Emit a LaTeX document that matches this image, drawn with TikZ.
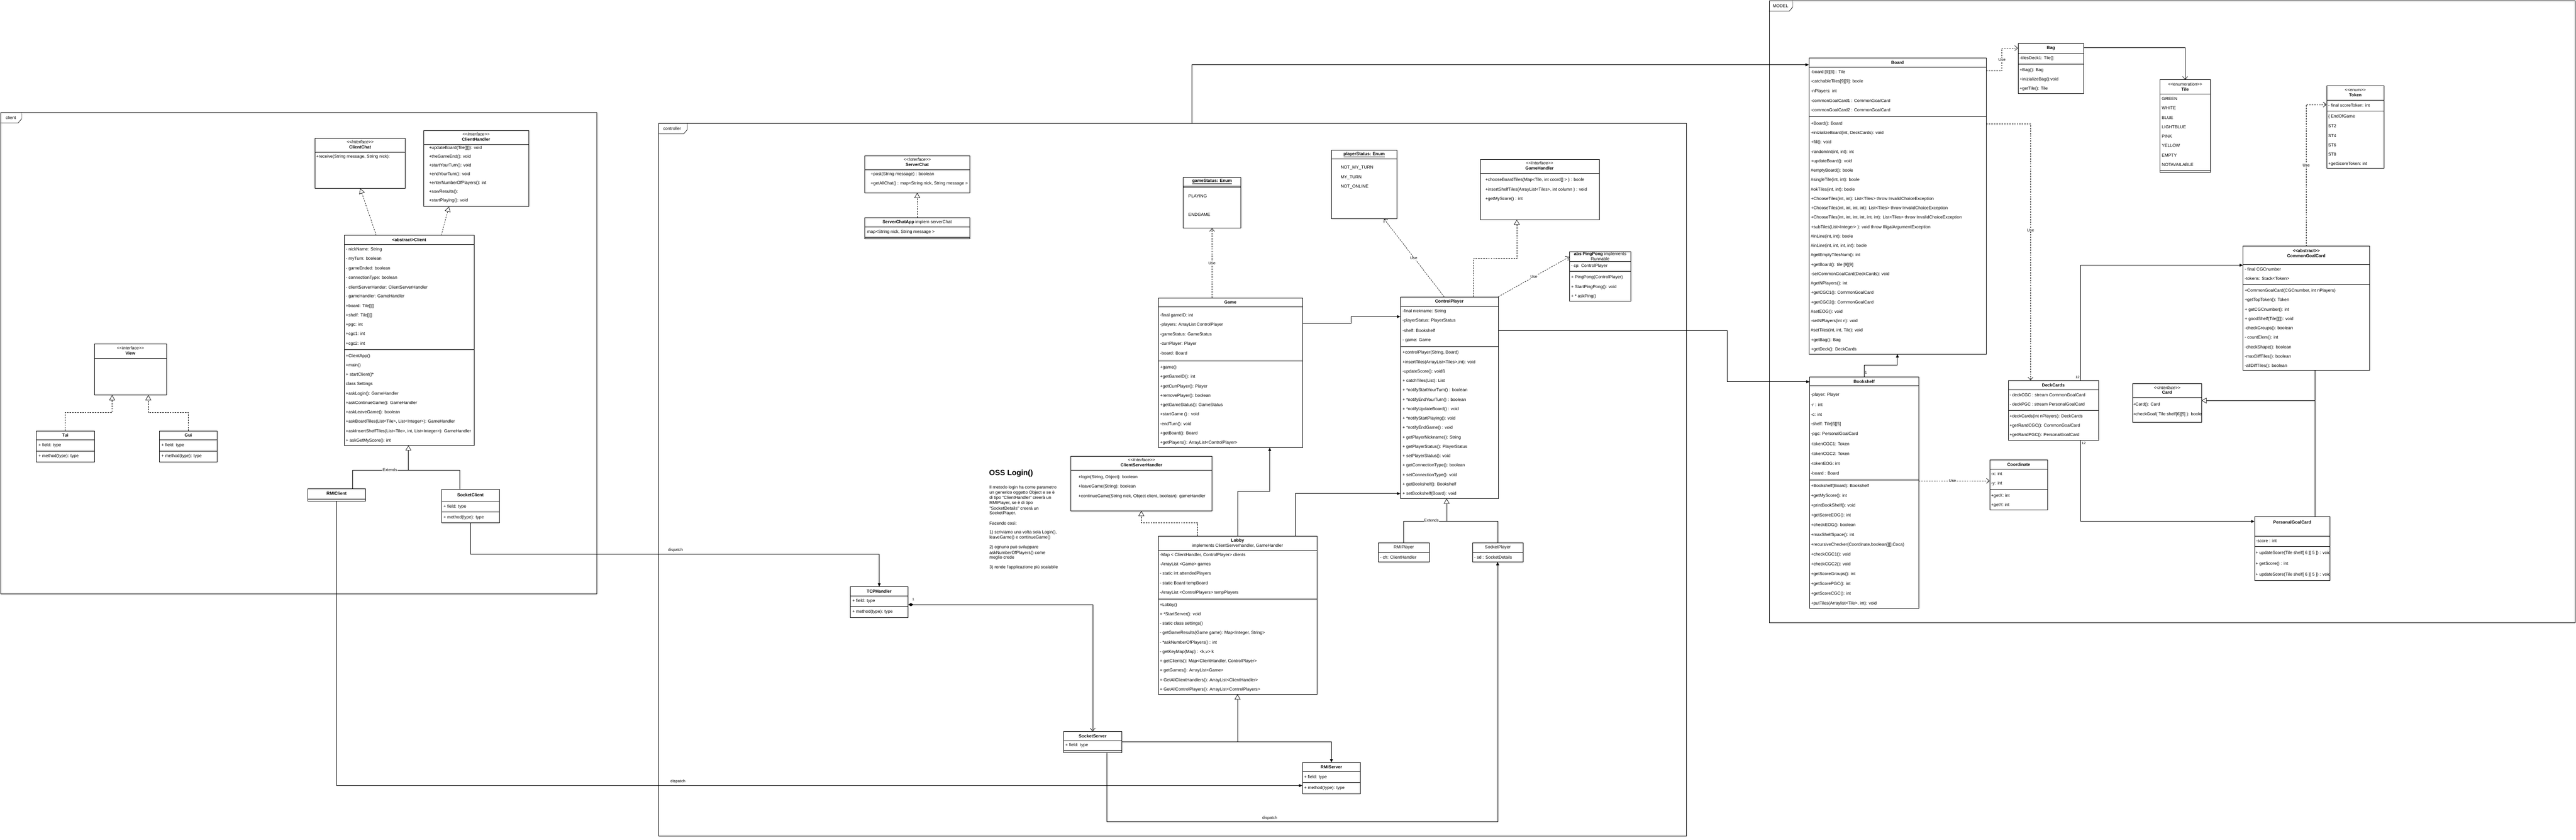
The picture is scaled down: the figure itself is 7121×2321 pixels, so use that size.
\documentclass[tikz,border=0pt]{standalone}
\usepackage{fontspec}
\setmainfont{Liberation Sans}[Ligatures=TeXOff]
\usetikzlibrary{arrows.meta,calc}
\newcommand{\fs}{\fontsize{12}{14}\selectfont}
\newcommand{\fsm}{\fontsize{11}{13}\selectfont}
\newcommand{\stereo}[1]{<\kern0pt<#1>\kern0pt>}
\newcommand{\umlc}[5]{\pgfmathsetmacro\ww{#4-#2}\pgfmathsetmacro\hh{#5-#3}\node[cls, minimum width=\ww pt, minimum height=\hh pt] (#1) at (#2,#3) {};}
\newcommand{\csep}[2]{\draw[ln] (#1.west |- 0,#2) -- (#1.east |- 0,#2);}
\newcommand{\rows}[4]{\foreach \rtxt [count=\ri from 0] in {#4} {\node[txt] at (#1,{#2+\ri*#3}) {\rtxt};}}
\newcommand{\ttl}[3]{\node[ctr] at (#1.north |- 0,#2) {#3};}
\tikzset{
  ln/.style={line width=1pt},
  cls/.style={draw, fill=white, line width=1pt, inner sep=0pt, anchor=north west},
  pframe/.style={draw, line width=1pt, inner sep=0pt, anchor=north west},
  txt/.style={anchor=west, inner sep=0pt, font=\fs},
  ctr/.style={inner sep=0pt, font=\fs},
  assoc/.style={ln, -{Triangle[length=9pt,width=8pt]}},
  openarr/.style={ln, -{Straight Barb[length=8pt,width=14pt]}},
  use/.style={ln, dash pattern=on 4pt off 3pt, -{Straight Barb[length=8pt,width=14pt]}},
  real/.style={ln, dash pattern=on 4pt off 3pt, -{Triangle[open,length=14pt,width=16pt,fill=white]}},
  inh/.style={ln, -{Triangle[open,length=14pt,width=16pt,fill=white]}},
  comp/.style={ln, {Diamond[length=14pt,width=9pt]}-{Straight Barb[length=8pt,width=14pt]}},
  lbl/.style={fill=white, inner sep=1pt, font=\fsm},
  lbltwo/.style={inner sep=0pt, font=\fsm},
  lblnum/.style={inner sep=0pt, font=\fontsize{10}{12}\selectfont},
}
\begin{document}
\begin{tikzpicture}[x=1pt,y=-1pt]
\useasboundingbox (0,0) rectangle (7121,2321);
\fill[white] (0,0) rectangle (7121,2321);

% ================= package frames =================
\node[pframe, minimum width=1648pt, minimum height=1330pt] (pclient) at (1,310) {};
\draw[ln] (1,340) -- (50,340) -- (60,328) -- (60,310);
\node[ctr] at (30,325) {client};

\node[pframe, minimum width=2842pt, minimum height=1970pt] (pctrl) at (1820,340) {};
\draw[ln] (1820,370) -- (1890,370) -- (1900,358) -- (1900,340);
\node[ctr] at (1858,355) {controller};

\node[pframe, minimum width=2228pt, minimum height=1719pt] (pmodel) at (4890,1) {};
\draw[ln] (4890,31) -- (4946,31) -- (4956,19) -- (4956,1);
\node[ctr] at (4922,16) {MODEL};

% ================= client =================
\umlc{cchat}{870}{381}{1120}{520}
\ttl{cchat}{392}{\textit{\stereo{Interface}}}
\ttl{cchat}{406}{\textbf{ClientChat}}
\csep{cchat}{420}
\node[txt] at (874,434) {+receive(String message, String nick):};

\umlc{chandler}{1170}{360}{1461}{570}
\ttl{chandler}{371}{\textit{\stereo{Interface}}}
\ttl{chandler}{385}{\textbf{ClientHandler}}
\csep{chandler}{399}
\rows{1186}{409}{24.2}{{+updateBoard(Tile[][]): void},{+theGameEnd(): void},{+startYourTurn(): void},{+endYourTurn(): void},{+enterNumberOfPlayers(): int},{+sowResults():},{+startPlaying(): void}}

\umlc{client}{951}{650}{1310}{1230}
\ttl{client}{663}{\textbf{<abstract>Client}}
\csep{client}{676}
\rows{956}{690}{26}{{- nickName: String},{- myTurn: boolean},{- gameEnded: boolean},{- connectionType: boolean},{- clientServerHander: ClientServerHandler},{- gameHandler: GameHandler},{+board: Tile[][]},{+shelf: Tile[][]},{+pgc: int},{+cgc1: int},{+cgc2: int}}
\csep{client}{966}
\rows{956}{984}{26}{{+ClientApp()},{+main()},{+ startClient()*},{class Settings},{+askLogin(): GameHandler},{+askContinueGame(): GameHandler},{+askLeaveGame(): boolean},{+askBoardTiles(List<Tile>, List<Integer>): GameHandler},{+askInsertShelfTiles(List<Tile>, int, List<Integer>): GameHandler},{+ askGetMyScore(): int}}

\umlc{view}{260}{950}{460}{1091}
\ttl{view}{962}{\textit{\stereo{Interface}}}
\ttl{view}{976}{\textbf{View}}
\csep{view}{990}

\umlc{tui}{100}{1191}{260}{1276}
\ttl{tui}{1203}{\textbf{Tui}}
\csep{tui}{1216}
\node[txt] at (106,1231) {+ field: type};
\csep{tui}{1246}
\node[txt] at (106,1261) {+ method(type): type};

\umlc{gui}{440}{1191}{600}{1276}
\ttl{gui}{1203}{\textbf{Gui}}
\csep{gui}{1216}
\node[txt] at (446,1231) {+ field: type};
\csep{gui}{1246}
\node[txt] at (446,1261) {+ method(type): type};

\umlc{rmic}{850}{1350}{1010}{1385}
\ttl{rmic}{1364}{\textbf{RMIClient}}
\csep{rmic}{1379}

\umlc{sockc}{1220}{1352}{1380}{1444}
\ttl{sockc}{1368}{\textbf{SocketClient}}
\csep{sockc}{1385}
\node[txt] at (1226,1400) {+ field: type};
\csep{sockc}{1415}
\node[txt] at (1226,1430) {+ method(type): type};

% client connectors
\draw[real] (1040,0 |- client.north) -- (996,0 |- cchat.south);
\draw[real] (1220,0 |- client.north) -- (1241,0 |- chandler.south);
\draw[real] (tui.north) |- (310,1140) -- (310,0 |- view.south);
\draw[real] (gui.north) |- (410,1140) -- (410,0 |- view.south);
\draw[ln] (975,0 |- rmic.north) |- (1129,1300);
\draw[ln] (1271,0 |- sockc.north) |- (1129,1300);
\draw[inh] (1129,1300) -- (1129,0 |- client.south);
\node[lbl] at (1078,1299) {Extends};

% ================= controller =================
\umlc{schat}{2390}{430}{2680}{532}
\ttl{schat}{441}{\textit{\stereo{Interface}}}
\ttl{schat}{455}{\textbf{ServerChat}}
\csep{schat}{469}
\rows{2407}{482}{26}{{+post(String message) : boolean},{+getAllChat() : map<String nick, String message >}}

\umlc{scapp}{2390}{601}{2680}{660}
\ttl{scapp}{614}{\textbf{ServerChatApp} implem serverChat}
\csep{scapp}{627}
\node[txt] at (2397,641) {map<String nick, String message >};
\csep{scapp}{655}

\umlc{gstat}{3270}{490}{3430}{630}
\ttl{gstat}{502}{\underline{\textbf{gameStatus: Enum}}}
\csep{gstat}{514}
\csep{gstat}{517}
\node[txt] at (3285,542) {PLAYING};
\node[txt] at (3285,594) {ENDGAME};

\umlc{pstat}{3680}{414}{3861}{604}
\ttl{pstat}{427}{\underline{\textbf{playerStatus: Enum}}}
\csep{pstat}{439}
\rows{3706}{464}{26}{{NOT\_MY\_TURN},{MY\_TURN},{NOT\_ONLINE}}

\umlc{gh}{4091}{440}{4420}{606}
\ttl{gh}{451}{\textit{\stereo{Interface}}}
\ttl{gh}{465}{\textbf{GameHandler}}
\csep{gh}{479}
\rows{4106}{498}{26}{{+chooseBoardTiles(Map<Tile, int coord[] > ) : boole},{+insertShelfTiles(ArrayList<Tiles>, int column ) : void},{+getMyScore() : int}}

\umlc{ping}{4338}{695}{4508}{832}
\ttl{ping}{702}{\textbf{abs PingPong} implements}
\ttl{ping}{715}{Runnable}
\csep{ping}{722}
\node[txt] at (4343,736) {- cp: ControlPlayer};
\csep{ping}{750}
\rows{4343}{767}{26.5}{{+ PingPong(ControlPlayer)},{+ StartPingPong(): void},{+ * askPing()}}

\umlc{game}{3201}{823}{3600}{1236}
\ttl{game}{836}{\textbf{Game}}
\csep{game}{848}
\rows{3207}{872}{26.2}{{-final gameID: int},{-players: ArrayList ControlPlayer},{-gameStatus: GameStatus},{-currPlayer: Player},{-board: Board}}
\csep{game}{998}
\rows{3207}{1016}{26}{{+game()},{+getGameID(): int},{+getCurrPlayer(): Player},{+removePlayer(): boolean},{+getGameStatus(): GameStatus},{+startGame () : void},{-endTurn(): void},{+getBoard(): Board},{+getPlayers(): ArrayList<ControlPlayer>}}

\umlc{cp}{3871}{820}{4141}{1377}
\ttl{cp}{833}{\textbf{ControlPlayer}}
\csep{cp}{846}
\rows{3877}{860}{27}{{-final nickname: String},{-playerStatus: PlayerStatus},{-shelf: Bookshelf},{- game: Game}}
\csep{cp}{957}
\rows{3877}{975}{26}{{+controlPlayer(String, Board)},{+insertTiles(ArrayList<Tiles>,int): void},{-updateScore(): voidß},{+ catchTiles(List): List},{+ *notifyStartYourTurn() : boolean},{+ *notifyEndYourTurn() : boolean},{+ *notifyUpdateBoard() : void},{+ *notifyStartPlaying(): void},{+ *notifyEndGame() : void},{+ getPlayerNickname(): String},{+ getPlayerStatus(): PlayerStatus},{+ setPlayerStatus(): void},{+ getConnectionType(): boolean},{+ setConnectionType(): void},{+ getBookshelf(): Bookshelf},{+ setBookshelf(Board): void}}

\umlc{rmip}{3810}{1500}{3950}{1552}
\ttl{rmip}{1513}{RMIPlayer}
\csep{rmip}{1527}
\node[txt] at (3815,1540) {- ch: ClientHandler};

\umlc{sockp}{4070}{1500}{4210}{1552}
\ttl{sockp}{1513}{SocketPlayer}
\csep{sockp}{1527}
\node[txt] at (4075,1540) {- sd : SocketDetails};

\umlc{csh}{2960}{1260}{3350}{1411}
\ttl{csh}{1271}{\textit{\stereo{Interface}}}
\ttl{csh}{1285}{\textbf{ClientServerHandler}}
\csep{csh}{1300}
\rows{2981}{1319}{26.5}{{+login(String, Object): boolean},{+leaveGame(String): boolean},{+continueGame(String nick, Object client, boolean): gameHandler}}

\node[anchor=west, inner sep=0pt, font=\fontsize{21}{25}\selectfont\bfseries] (oss) at (2734,1309) {OSS Login()};
\node[txt] at (2735,1348) {Il metodo login ha come parametro};
\node[txt] at (2735,1362) {un generico oggetto Object e se è};
\node[txt] at (2735,1376) {di tipo "ClientHandler" creerà un};
\node[txt] at (2735,1391) {RMIPlayer, se è di tipo};
\node[txt] at (2735,1405) {"SocketDetails" creerà un};
\node[txt] at (2735,1419) {SocketPlayer.};
\node[txt] at (2735,1446) {Facendo così:};
\node[txt] at (2735,1472) {1) scriviamo una volta sola Login(),};
\node[txt] at (2735,1486) {leaveGame() e continueGame()};
\node[txt] at (2735,1513) {2) ognuno può sviluppare};
\node[txt] at (2735,1528) {askNumberOfPlayers() come};
\node[txt] at (2735,1542) {meglio crede};
\node[txt] at (2735,1568) {3) rende l'applicazione più scalabile};

\umlc{lobby}{3201}{1481}{3640}{1918}
\ttl{lobby}{1494}{\textbf{Lobby}}
\ttl{lobby}{1508}{implements ClientServerhandler, GameHandler}
\csep{lobby}{1521}
\rows{3206}{1534}{26}{{-Map < ClientHandler, ControlPlayer> clients},{-ArrayList <Game> games},{- static int attendedPlayers},{- static Board tempBoard},{-ArrayList <ControlPlayers> tempPlayers}}
\csep{lobby}{1655}
\rows{3206}{1672}{26}{{+Lobby()},{+ *StartServer(): void},{- static class settings()},{- getGameResults(Game game): Map<Integer, String>},{- *askNumberOfPlayers() : int},{- getKeyMap(Map) : <k,v> k},{+ getClients(): Map<ClientHandler, ControlPlayer>},{+ getGames(): ArrayList<Game>},{+ GetAllClientHandlers(): ArrayList<ClientHandler>},{+ GetAllControlPlayers(): ArrayList<ControlPlayers>}}

\umlc{tcph}{2350}{1621}{2510}{1706}
\ttl{tcph}{1634}{\textbf{TCPHandler}}
\csep{tcph}{1647}
\node[txt] at (2356,1661) {+ field: type};
\csep{tcph}{1676}
\node[txt] at (2356,1691) {+ method(type): type};

\umlc{socks}{2940}{2021}{3100}{2080}
\ttl{socks}{2034}{\textbf{SocketServer}}
\csep{socks}{2047}
\node[txt] at (2945,2060) {+ field: type};
\csep{socks}{2074}

\umlc{rmis}{3600}{2107}{3760}{2193}
\ttl{rmis}{2120}{\textbf{RMIServer}}
\csep{rmis}{2133}
\node[txt] at (3605,2148) {+ field: type};
\csep{rmis}{2163}
\node[txt] at (3605,2178) {+ method(type): type};

% ================= MODEL =================
\umlc{board}{5000}{160}{5490}{978}
\ttl{board}{173}{\textbf{Board}}
\csep{board}{186}
\rows{5006}{200}{26}{{-board [9][9] : Tile},{-catchableTiles[9][9]: boole},{-nPlayers: int},{-commonGoalCard1 : CommonGoalCard},{-commonGoalCard2 : CommonGoalCard}}
\csep{board}{323}
\rows{5006}{342}{26}{{+Board(): Board},{+inizializeBoard(int, DeckCards): void},{+fill(): void},{-randomInt(int, int): int},{+updateBoard(): void},{\#emptyBoard(): boole},{\#singleTile(int, int): boole},{\#okTiles(int, int): boole},{+ChooseTiles(int, int): List<Tiles> throw InvalidChoiceException},{+ChooseTiles(int, int, int, int): List<Tiles> throw InvalidChoiceException},{+ChooseTiles(int, int, int, int, int, int): List<Tiles> throw InvalidChoiceException},{+subTiles(List<Integer> ): void throw IlligalArgumentException},{\#inLine(int, int): boole},{\#inLine(int, int, int, int): boole},{\#getEmptyTilesNum(): int},{+getBoard(): tile [9][9]},{-setCommonGoalCard(DeckCards): void},{\#getNPlayers(): int},{+getCGC1(): CommonGoalCard},{+getCGC2(): CommonGoalCard},{\#setEOG(): void},{-setNPlayers(int n): void},{\#setTiles(int, int, Tile): void},{+getBag(): Bag},{+getDeck(): DeckCards}}

\umlc{bag}{5578}{120}{5760}{258}
\ttl{bag}{133}{\textbf{Bag}}
\csep{bag}{147}
\node[txt] at (5583,161) {-tilesDeck1:  Tile[]};
\csep{bag}{177}
\rows{5583}{194}{25.5}{{+Bag(): Bag},{+inizializeBag():void},{+getTile(): Tile}}

\umlc{tile}{5970}{220}{6110}{476}
\ttl{tile}{233}{\stereo{enumeration}}
\ttl{tile}{247}{\textbf{Tile}}
\csep{tile}{260}
\rows{5976}{273}{26}{{GREEN},{WHITE},{BLUE},{LIGHTBLUE},{PINK},{YELLOW},{EMPTY},{NOTAVAILABLE}}
\csep{tile}{470}

\umlc{token}{6431}{236}{6590}{464}
\ttl{token}{249}{\stereo{enum}}
\ttl{token}{263}{\textbf{Token}}
\csep{token}{277}
\node[txt] at (6436,291) {- final scoreToken: int};
\csep{token}{306}
\rows{6436}{323}{26}{{\{ EndOfGame},{ST2},{ST4},{ST6},{ST8},{+getScoreToken: int}}

\umlc{cgc}{6200}{680}{6550}{1023}
\ttl{cgc}{693}{\textbf{\stereo{abstract}}}
\ttl{cgc}{707}{\textbf{CommonGoalCard}}
\csep{cgc}{731}
\rows{6205}{744}{26}{{- final CGCnumber},{-tokens: Stack<Token>}}
\csep{cgc}{786}
\rows{6205}{804}{26}{{+CommonGoalCard(CGCnumber, int nPlayers)},{+getTopToken(): Token},{+ getCGCnumber(): int},{+ goodShelf(Tile[][]): void},{-checkGroups(): boolean},{- countElem(): int},{-checkShape(): boolean},{-maxDiffTiles(): boolean},{-allDiffTiles(): boolean}}

\umlc{card}{5895}{1060}{6085}{1166}
\ttl{card}{1071}{\textit{\stereo{interface}}}
\ttl{card}{1085}{\textbf{Card}}
\csep{card}{1099}
\rows{5896}{1119}{27}{{+Card(): Card},{+checkGoal( Tile shelf[6][5] ): boole}}

\umlc{deck}{5551}{1051}{5800}{1216}
\ttl{deck}{1064}{\textbf{DeckCards}}
\csep{deck}{1077}
\rows{5555}{1091}{26}{{- deckCGC : stream CommonGoalCard},{- deckPGC : stream PersonalGoalCard}}
\csep{deck}{1134}
\rows{5555}{1151}{26}{{+deckCards(int nPlayers): DeckCards},{+getRandCGC(): CommonGoalCard},{+getRandPGC(): PersonalGoalCard}}

\umlc{coord}{5500}{1270}{5660}{1408}
\ttl{coord}{1284}{\textbf{Coordinate}}
\csep{coord}{1297}
\rows{5504}{1310}{26}{{-x: int},{-y: int}}
\csep{coord}{1352}
\rows{5504}{1370}{26}{{+getX: int},{+getY: int}}

\umlc{bshelf}{5002}{1041}{5303}{1680}
\ttl{bshelf}{1054}{\textbf{Bookshelf}}
\csep{bshelf}{1066}
\rows{5006}{1092}{27}{{-player: Player},{-r : int},{-c: int},{-shelf: Tile[6][5]},{-pgc: PersonalGoalCard},{-tokenCGC1: Token},{-tokenCGC2: Token},{-tokenEOG: int},{-board : Board}}
\csep{bshelf}{1327}
\rows{5006}{1344}{27}{{+Bookshelf(Board): Bookshelf},{+getMyScore(): int},{+printBookShelf(): void},{+getScoreEOG(): int},{+checkEOG(): boolean},{+maxShelfSpace(): int},{+recursiveChecker(Coordinate,boolean[][],Coca)},{+checkCGC1(): void},{+checkCGC2(): void},{+getScoreGroups(): int},{+getScorePGC(): int},{+getScoreCGC(): int},{+putTiles(Arraylist<Tile>, int): void}}

\umlc{pgc}{6232}{1427}{6440}{1604}
\ttl{pgc}{1444}{\textbf{PersonalGoalCard}}
\csep{pgc}{1481}
\node[txt] at (6236,1495) {-score : int};
\csep{pgc}{1510}
\rows{6235}{1529}{30}{{+ updateScore(Tile shelf[ 6 ][ 5 ]) : void},{+ getScore() : int},{+ updateScore(Tile shelf[ 6 ][ 5 ]) : void}}

% ================= controller connectors =================
\draw[assoc] (sockc.south) |- (tcph.north |- 0,1531) -- (tcph.north);
\node[lbltwo] at (1867,1521) {dispatch};
\draw[assoc] (930,0 |- rmic.south) |- (rmis.west |- 0,2171);
\node[lbltwo] at (1874,2160) {dispatch};

\draw[real] (scapp.north) -- (schat.south);
\draw[use] (gstat.south |- game.north) -- (gstat.south);
\node[lbl] at (3350,727) {Use};
\draw[assoc] (3295,0 |- pctrl.north) |- (board.west |- 0,179);
\draw[real] (3310,0 |- lobby.north) |- (3155,1445) -- (3155,0 |- csh.south);
\draw[assoc] (3421,0 |- lobby.north) |- (3510,1358) -- (3510,0 |- game.south);
\draw[assoc] (3581,0 |- lobby.north) |- (cp.west |- 0,1364);
\draw[assoc] (game.east |- 0,894) -- (3735,894) -- (3735,875) -- (cp.west |- 0,875);
\draw[use] (3992,0 |- cp.north) -- (3826,0 |- pstat.south);
\node[lbl] at (3908,714) {Use};
\draw[real] (4073,0 |- cp.north) |- (4193,714) -- (4193,0 |- gh.south);
\draw[use] (cp.north east) -- (ping.west |- 0,710);
\node[lbl] at (4240,764) {Use};
\draw[ln] (3880,0 |- rmip.north) |- (3999,1440);
\draw[ln] (4140,0 |- sockp.north) |- (3999,1440);
\draw[inh] (3999,1440) -- (3999,0 |- cp.south);
\node[lbl] at (3957,1438) {Extends};
\draw[assoc] (cp.east |- 0,914) -- (4775,914) |- (bshelf.west |- 0,1055);
\draw[comp] (tcph.east |- 0,1671) -| (socks.north);
\node[lblnum] at (2525,1656) {1};
\draw[inh] (socks.east |- 0,2050) -| (3421,0 |- lobby.south);
\draw[assoc] (3421,2050) -| (rmis.north);
\draw[assoc] (3060,0 |- socks.south) |- (4140,2270) -- (4140,0 |- sockp.south);
\node[lbltwo] at (3510,2261) {dispatch};

% ================= model connectors =================
\draw[use] (board.east |- 0,196) -- (5534,196) -- (5534,133) -- (bag.west |- 0,133);
\node[lbl] at (5534,165) {Use};
\draw[use] (board.east |- 0,342) -| (5613,0 |- deck.north);
\node[lbl] at (5613,636) {Use};
\draw[openarr] (bag.east |- 0,131) -| (tile.north);
\draw[use] (6375,0 |- cgc.north) |- (token.west |- 0,289);
\node[lbl] at (6375,457) {Use};
\draw[assoc] (5752,0 |- deck.north) |- (cgc.west |- 0,733);
\node[lblnum] at (5743,1043) {12};
\draw[assoc] (5752,0 |- deck.south) |- (pgc.west |- 0,1441);
\node[lblnum] at (5760,1225) {12};
\draw[ln] (6400,0 |- pgc.north) -- (6400,0 |- cgc.south);
\draw[inh] (6400,1107) -- (card.east |- 0,1107);
\draw[assoc] (5153,0 |- bshelf.north) |- (5245,1009) -- (5245,0 |- board.south);
\node[lblnum] at (5158,1030) {1};
\draw[use] (bshelf.east |- 0,1329) -- (coord.west |- 0,1329);
\node[lbl] at (5397,1329) {Use};
\end{tikzpicture}
\end{document}
